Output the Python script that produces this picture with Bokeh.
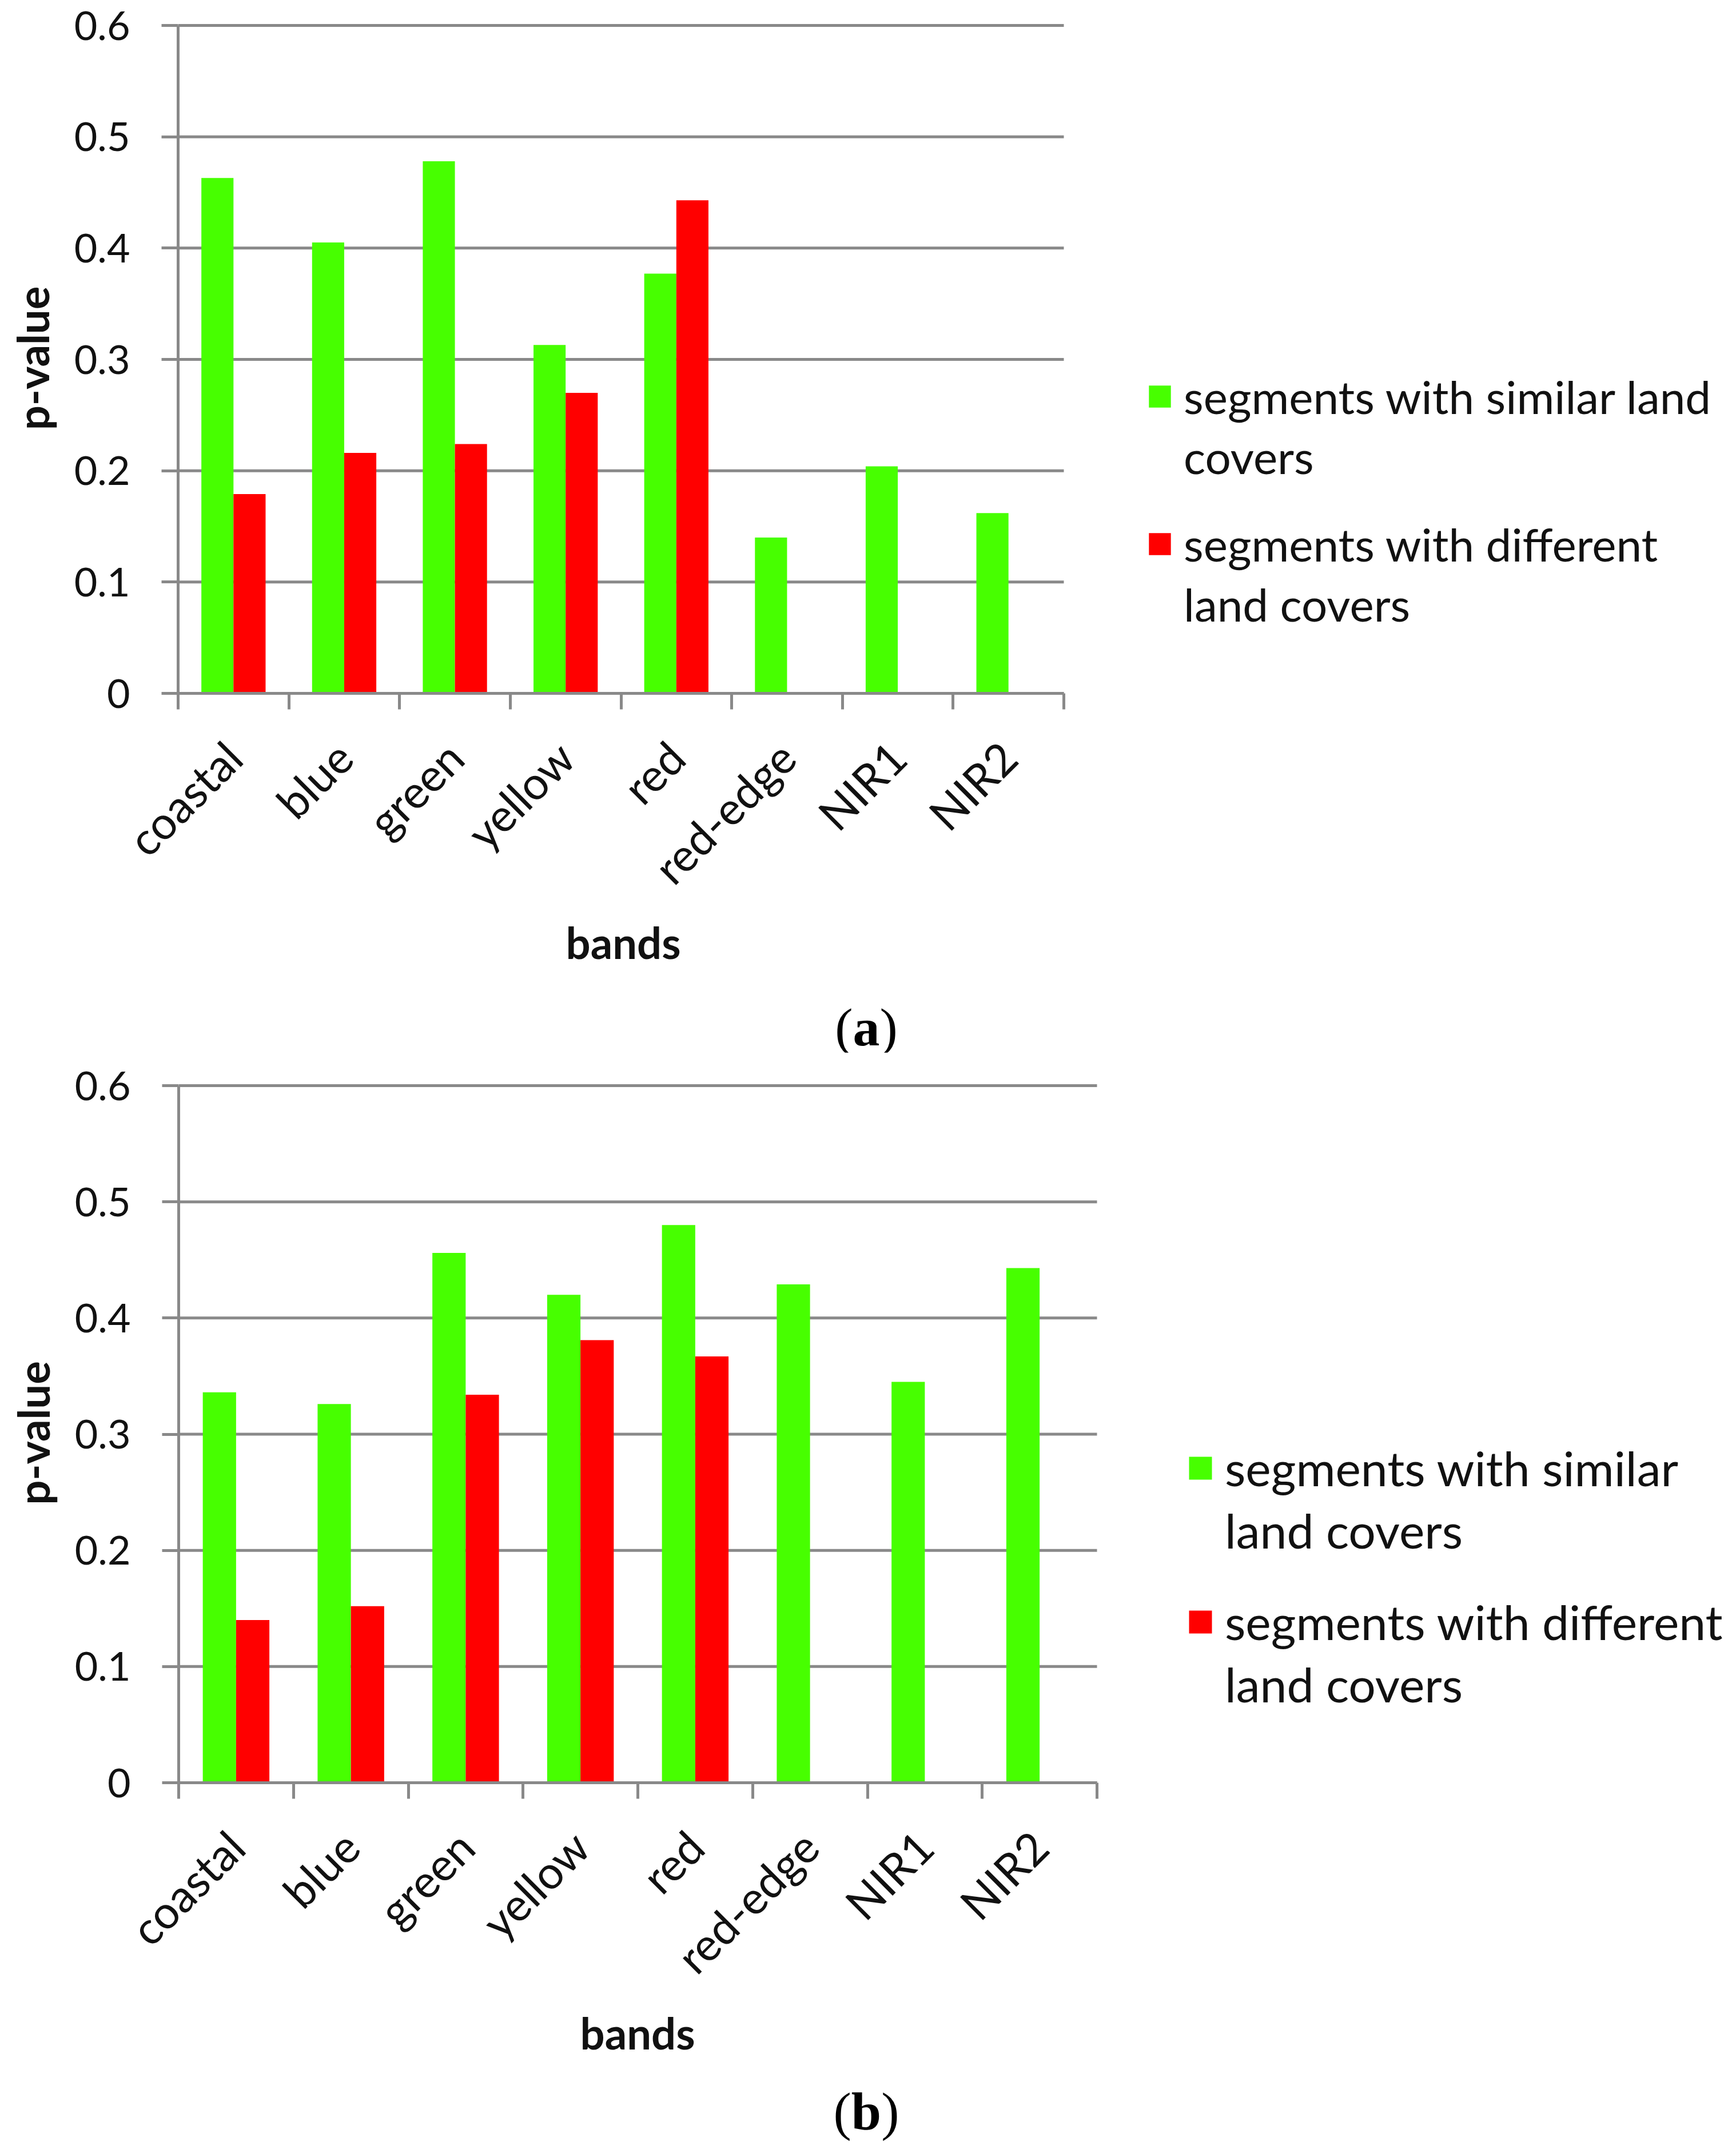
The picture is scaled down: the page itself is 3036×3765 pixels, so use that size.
import numpy as np
from math import pi
from bokeh.plotting import figure
from bokeh.models import Range1d, FixedTicker, Legend, LegendItem, Div, ColumnDataSource, Title
from bokeh.embed import file_html
from bokeh.resources import INLINE

# ---------------- data ----------------
bands = ["coastal", "blue", "green", "yellow", "red", "red-edge", "NIR1", "NIR2"]
a_similar = [0.463, 0.405, 0.478, 0.313, 0.377, 0.140, 0.204, 0.162]
a_different = [0.179, 0.216, 0.224, 0.270, 0.443]
b_similar = [0.336, 0.326, 0.456, 0.420, 0.480, 0.429, 0.345, 0.443]
b_different = [0.140, 0.152, 0.334, 0.381, 0.367]
y_ticks = [0, 0.1, 0.2, 0.3, 0.4, 0.5, 0.6]
y_tick_labels = ["0", "0.1", "0.2", "0.3", "0.4", "0.5", "0.6"]
x_title = "bands"
y_title = "p-value"
legend_similar_a = ["segments with similar land", "covers"]
legend_different_a = ["segments with different", "land covers"]
legend_similar_b = ["segments with similar", "land covers"]
legend_different_b = ["segments with different", "land covers"]
panel_labels = ["a", "b"]

GREEN = "#47FF00"
RED = "#FF0000"
GRAY = "#898989"
TXT = "#111111"
BAR_W = 0.29
W = 3020
RIGHT = 6          # right border of each figure (legend lives inside the frame)
EXT = 4            # extra pixels above the 0.6 line so that it is not clipped
FONT = "Lato"


def make_panel(similar, different, leg_sim, leg_dif, left, axis_w, top, frame_h, height,
               title_offset, title_standoff, leg_x, leg_y_sim, leg_y_dif, leg_font,
               glyph, label_h, spacing):
    n = len(bands)
    y_max = y_ticks[-1]
    full_w = W - left - RIGHT
    x_end = n * full_w / axis_w
    y_end = y_max * (frame_h + EXT) / frame_h
    p = figure(width=W, height=height, x_range=Range1d(0, x_end), y_range=Range1d(0, y_end),
               output_backend="svg", toolbar_location=None,
               min_border_left=left, min_border_right=RIGHT,
               min_border_top=top - EXT, min_border_bottom=height - top - frame_h)
    p.outline_line_color = None
    p.background_fill_color = "white"
    idx = np.arange(n)

    # horizontal grid lines, limited to the bar area
    p.segment(x0=[0] * len(y_ticks), x1=[n] * len(y_ticks), y0=y_ticks, y1=y_ticks,
              line_color=GRAY, line_width=5)

    src_s = ColumnDataSource(dict(x=idx[:len(similar)] + 0.5 - BAR_W / 2, top=similar))
    src_d = ColumnDataSource(dict(x=idx[:len(different)] + 0.5 + BAR_W / 2, top=different))
    r_s = p.vbar(x="x", top="top", width=BAR_W, bottom=0, source=src_s,
                 fill_color=GREEN, line_color=None)
    r_d = p.vbar(x="x", top="top", width=BAR_W, bottom=0, source=src_d,
                 fill_color=RED, line_color=None)

    yax = p.yaxis[0]
    yax.bounds = (0, y_max)
    yax.ticker = FixedTicker(ticks=y_ticks)
    yax.major_label_overrides = {t: l for t, l in zip(y_ticks, y_tick_labels)}
    yax.axis_line_color = GRAY
    yax.axis_line_width = 5
    yax.major_tick_line_color = GRAY
    yax.major_tick_line_width = 5
    yax.major_tick_out = 29
    yax.major_tick_in = 0
    yax.minor_tick_line_color = None
    yax.major_label_text_font = FONT
    yax.major_label_text_font_size = "70px"
    yax.major_label_text_color = TXT
    yax.major_label_standoff = 55
    yax.axis_label = y_title
    yax.axis_label_text_font = FONT
    yax.axis_label_text_font_style = "bold"
    yax.axis_label_text_font_size = "76px"
    yax.axis_label_text_color = TXT
    yax.axis_label_standoff = 25

    xax = p.xaxis[0]
    xax.bounds = (0, n)
    xax.ticker = FixedTicker(ticks=[float(i + 0.5) for i in idx],
                             minor_ticks=[float(i) for i in range(n + 1)])
    xax.major_label_overrides = {float(i + 0.5): b for i, b in enumerate(bands)}
    xax.major_label_orientation = pi / 4
    xax.axis_line_color = GRAY
    xax.axis_line_width = 5
    xax.major_tick_line_color = None
    xax.major_tick_out = 0
    xax.major_tick_in = 0
    xax.minor_tick_line_color = GRAY
    xax.minor_tick_line_width = 5
    xax.minor_tick_out = 28
    xax.minor_tick_in = 0
    xax.major_label_text_font = FONT
    xax.major_label_text_font_size = "79px"
    xax.major_label_text_color = TXT
    xax.major_label_standoff = 70

    # x-axis title, centred under the bars (not under the wider frame)
    p.add_layout(Title(text=x_title, align="left", offset=title_offset,
                       vertical_align="top", standoff=title_standoff,
                       text_font=FONT, text_font_style="bold",
                       text_font_size="76px", text_color=TXT), "below")

    p.xgrid.visible = False
    p.ygrid.visible = False

    for rend, lines, ly in ((r_s, leg_sim, leg_y_sim), (r_d, leg_dif, leg_y_dif)):
        leg = Legend(items=[LegendItem(label=lines[0], renderers=[rend]),
                            LegendItem(label=lines[1], renderers=[])],
                     location=(leg_x, ly), orientation="vertical",
                     glyph_width=glyph, glyph_height=glyph, label_height=label_h,
                     spacing=spacing, padding=0, margin=0,
                     border_line_alpha=0, background_fill_alpha=0,
                     label_text_font=FONT, label_text_font_size=leg_font,
                     label_standoff=18, label_text_color=TXT)
        p.add_layout(leg, "center")
    return p


def make_caption(letter, height, pad):
    html = ('<div style="width:%dpx;text-align:center;font-family:\'Liberation Serif\';'
            'font-size:94px;line-height:94px;padding-top:%dpx;color:#000;">(<b>%s</b>)</div>'
            % (W, pad, letter))
    return Div(text=html, width=W, height=height)


pa = make_panel(a_similar, a_different, legend_similar_a, legend_different_a,
                left=311, axis_w=1549, top=44, frame_h=1168, height=1720,
                title_offset=678, title_standoff=2,
                leg_x=1693, leg_y_sim=366, leg_y_dif=108, leg_font="80px",
                glyph=48, label_h=96, spacing=9)
ca = make_caption(panel_labels[0], 110, 24)
pb = make_panel(b_similar, b_different, legend_similar_b, legend_different_b,
                left=312, axis_w=1606, top=58, frame_h=1219, height=1792,
                title_offset=702, title_standoff=7,
                leg_x=1762, leg_y_sim=391, leg_y_dif=122, leg_font="84px",
                glyph=50, label_h=101, spacing=8)
cb = make_caption(panel_labels[1], 120, 8)

open("out.html", "w").write(file_html([pa, ca, pb, cb], INLINE))
